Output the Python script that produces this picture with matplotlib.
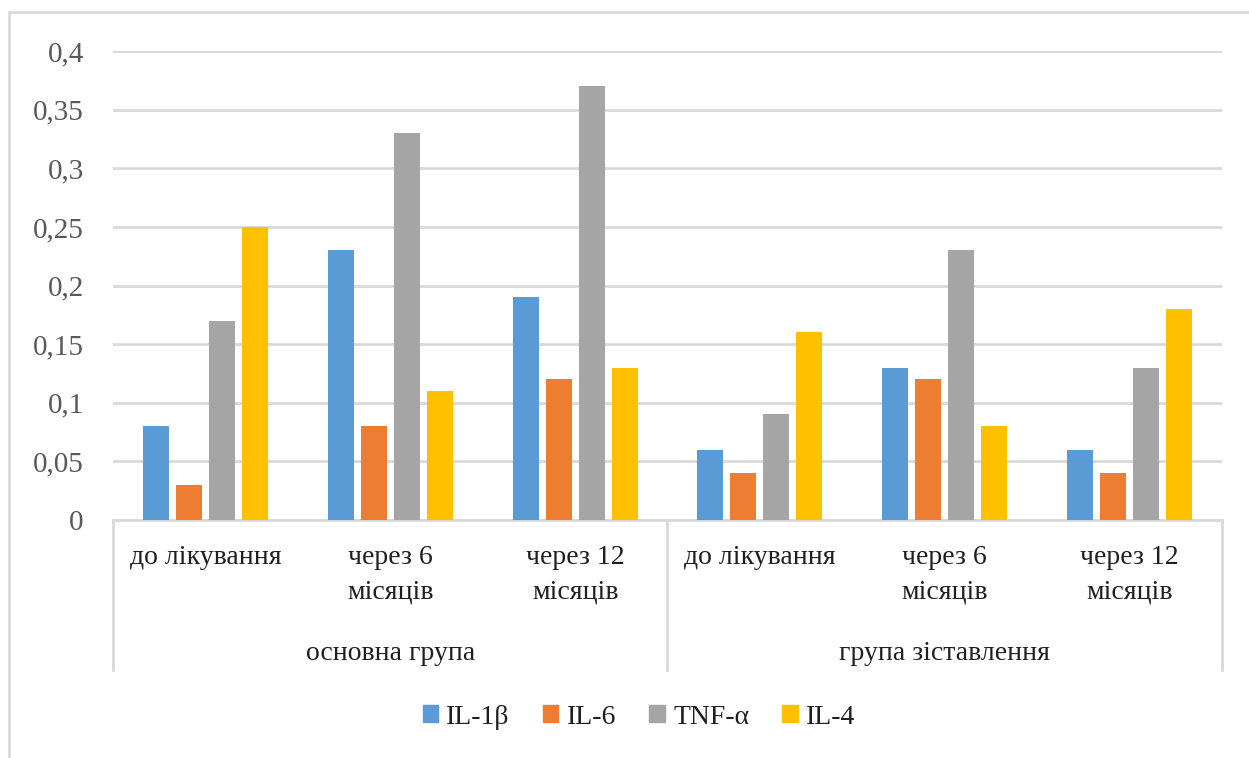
import numpy as np
import matplotlib
matplotlib.use("Agg")
from matplotlib import pyplot as plt
from matplotlib import transforms
from matplotlib.lines import Line2D
from matplotlib.patches import Rectangle, Patch

plt.rcParams['font.family'] = ['Liberation Serif', 'DejaVu Serif']

# data
groups = ['основна група', 'група зіставлення']
periods = ['до лікування', 'через 6\nмісяців', 'через 12\nмісяців'] * 2
series = ['IL-1β', 'IL-6', 'TNF-α', 'IL-4']
il1b = [0.08, 0.23, 0.19, 0.06, 0.13, 0.06]
il6 = [0.03, 0.08, 0.12, 0.04, 0.12, 0.04]
tnfa = [0.17, 0.33, 0.37, 0.09, 0.23, 0.13]
il4 = [0.25, 0.11, 0.13, 0.16, 0.08, 0.18]
colours = ['#5B9BD5', '#ED7D31', '#A5A5A5', '#FFC000']

W, H = 1249, 758
fig = plt.figure(figsize=(W/100, H/100), dpi=100)
ax = fig.add_axes([113/W, 1-520/H, (1222-113)/W, (520-51)/H])

x = np.arange(len(periods))
step = 0.1786
bw = 0.1407
for i, (vals, c) in enumerate(zip([il1b, il6, tnfa, il4], colours)):
    ax.bar(x + (i-1.5)*step, vals, bw, color=c, zorder=3)

ax.set_xlim(-0.5, len(periods)-0.5)
ax.set_ylim(0, 0.4)
ax.set_yticks(np.arange(0, 0.401, 0.05))
ax.set_yticklabels(['0', '0,05', '0,1', '0,15', '0,2', '0,25', '0,3', '0,35', '0,4'])
ax.tick_params(axis='y', length=0, pad=21, labelsize=21, labelcolor='#595959')
ax.set_xticks([])
ax.grid(axis='y', color='#D9D9D9', lw=2, zorder=0)
for s in ['top', 'right', 'left']:
    ax.spines[s].set_visible(False)
ax.spines['bottom'].set_color('#D9D9D9')
ax.spines['bottom'].set_linewidth(2)

# multi-level category axis
tr = transforms.blended_transform_factory(ax.transData, fig.transFigure)
for xs in [-0.5, 2.5, 5.5]:
    fig.add_artist(Line2D([xs, xs], [1-520/H, 1-670/H], transform=tr,
                          color='#D9D9D9', lw=2))
for xi, lab in zip(x, periods):
    fig.text(xi, 1-545/H, lab, transform=tr, ha='center', va='top',
             fontsize=20, color='#1f1f1f', linespacing=1.5)
for gi, g in enumerate(groups):
    fig.text(1 + 3*gi, 1-654/H, g, transform=tr, ha='center', va='center',
             fontsize=20, color='#1f1f1f')

# outer chart border
fig.add_artist(Rectangle((9/W, -0.1), 1.2, 1-12/H+0.1, transform=fig.transFigure,
                         fill=False, edgecolor='#D9D9D9', lw=2))

handles = [Patch(color=c, label=s) for c, s in zip(colours, series)]
fig.legend(handles=handles, loc='center', bbox_to_anchor=(639/W, 1-717/H), ncol=4,
           frameon=False, fontsize=20, handlelength=0.55, handleheight=0.55,
           handletextpad=0.3, columnspacing=1.2, labelcolor='#1f1f1f')

fig.savefig('out.png', dpi=100)
